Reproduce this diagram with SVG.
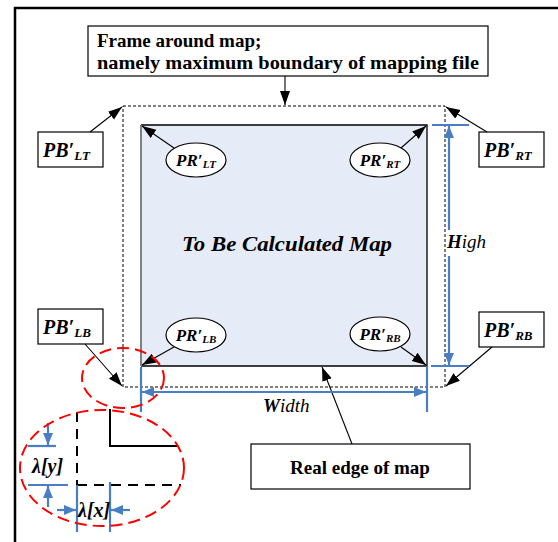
<svg xmlns="http://www.w3.org/2000/svg" width="558" height="542" viewBox="0 0 558 542">
<defs>
<style>
.box{fill:#fff;stroke:#000;stroke-width:1.2}
.lbl{font-family:"Liberation Serif","Times New Roman",serif;font-weight:bold;fill:#000}
.it{font-family:"Liberation Serif","Times New Roman",serif;font-style:italic;font-weight:bold;fill:#000}
.dimt{font-family:"Liberation Serif","Times New Roman",serif;font-style:italic;fill:#000}
.conn{stroke:#000;stroke-width:1.1;fill:none}
.blue{stroke:#4A7EC4;stroke-width:2.2;fill:none}
.red{stroke:#FF0000;stroke-width:2;fill:none;stroke-dasharray:12 6}
.dash{stroke:#000;stroke-width:1;fill:none;stroke-dasharray:3 2}
.bdash{stroke:#000;stroke-width:2;fill:none;stroke-dasharray:10 7}
</style>
<marker id="ah" markerUnits="userSpaceOnUse" markerWidth="16" markerHeight="12" refX="14" refY="5" orient="auto">
<path d="M0,0 L14,5 L0,10 Z" fill="#000"/>
</marker>
<marker id="bh" markerUnits="userSpaceOnUse" markerWidth="14" markerHeight="12" refX="12" refY="5" orient="auto">
<path d="M0,0 L12,5 L0,10 Z" fill="#4A7EC4"/>
</marker>
</defs>
<rect width="558" height="542" fill="#fff"/>
<g id="border">
<path d="M15,542 V8 H558" stroke="#000" stroke-width="2.5" fill="none"/>
</g>
<g id="frame">
<rect x="123" y="106" width="322" height="281" class="dash"/>
</g>
<g id="map">
<rect x="141" y="125" width="286" height="241" fill="#E6ECF7"/>
<path d="M141,125 H427 V366 H141" stroke="#000" stroke-width="1.3" fill="none"/>
<line x1="141" y1="125" x2="141" y2="366" stroke="#7F7F7F" stroke-width="2"/>
<text x="287" y="251" class="it" font-size="22">
<tspan x="182" textLength="210" lengthAdjust="spacingAndGlyphs">To Be Calculated Map</tspan></text>
</g>
<g id="top-label">
<rect x="88" y="26" width="400" height="50" class="box"/>
<text x="97" y="47" class="lbl" font-size="19">Frame around map;</text>
<text x="97" y="69" class="lbl" font-size="19" textLength="382" lengthAdjust="spacingAndGlyphs">namely maximum boundary of mapping file</text>
</g>
<g id="pb-lt">
<rect x="38" y="132" width="65" height="35" class="box"/>
<text x="43" y="157" class="it" font-size="20">PB′<tspan font-size="13" dy="3">LT</tspan></text>
</g>
<g id="pb-rt">
<rect x="479" y="132" width="65" height="35" class="box"/>
<text x="484" y="157" class="it" font-size="20">PB′<tspan font-size="13" dy="3">RT</tspan></text>
</g>
<g id="pb-lb">
<rect x="38" y="309" width="65" height="35" class="box"/>
<text x="43" y="334" class="it" font-size="20">PB′<tspan font-size="13" dy="3">LB</tspan></text>
</g>
<g id="pb-rb">
<rect x="479" y="312" width="65" height="35" class="box"/>
<text x="484" y="337" class="it" font-size="20">PB′<tspan font-size="13" dy="3">RB</tspan></text>
</g>
<g id="pr-lt">
<ellipse cx="196" cy="160" rx="30" ry="17" class="box"/>
<text x="196" y="166" class="it" font-size="17" text-anchor="middle">PR′<tspan font-size="11" dy="2">LT</tspan></text>
</g>
<g id="pr-rt">
<ellipse cx="380" cy="160" rx="30" ry="17" class="box"/>
<text x="380" y="166" class="it" font-size="17" text-anchor="middle">PR′<tspan font-size="11" dy="2">RT</tspan></text>
</g>
<g id="pr-lb">
<ellipse cx="196" cy="335" rx="30" ry="17" class="box"/>
<text x="196" y="341" class="it" font-size="17" text-anchor="middle">PR′<tspan font-size="11" dy="2">LB</tspan></text>
</g>
<g id="pr-rb">
<ellipse cx="380" cy="334" rx="30" ry="17" class="box"/>
<text x="380" y="340" class="it" font-size="17" text-anchor="middle">PR′<tspan font-size="11" dy="2">RB</tspan></text>
</g>
<g id="real-edge">
<rect x="251" y="444" width="219" height="45" class="box"/>
<text x="360" y="474" class="lbl" font-size="19" text-anchor="middle">Real edge of map</text>
</g>
<g id="connectors">
<line x1="285" y1="76" x2="285" y2="105" class="conn" marker-end="url(#ah)"/>
<line x1="90" y1="132" x2="122" y2="107" class="conn" marker-end="url(#ah)"/>
<line x1="487" y1="132" x2="446" y2="107" class="conn" marker-end="url(#ah)"/>
<line x1="85" y1="344" x2="122" y2="386" class="conn" marker-end="url(#ah)"/>
<line x1="492" y1="347" x2="446" y2="386" class="conn" marker-end="url(#ah)"/>
<line x1="174" y1="148" x2="142" y2="126" class="conn" marker-end="url(#ah)"/>
<line x1="401" y1="148" x2="426" y2="126" class="conn" marker-end="url(#ah)"/>
<line x1="174" y1="347" x2="142" y2="365" class="conn" marker-end="url(#ah)"/>
<line x1="401" y1="347" x2="426" y2="365" class="conn" marker-end="url(#ah)"/>
<line x1="352" y1="444" x2="322" y2="367" class="conn" marker-end="url(#ah)"/>
</g>
<g id="dimensions">
<line x1="432" y1="125" x2="469" y2="125" class="blue"/>
<line x1="431" y1="366" x2="469" y2="366" class="blue"/>
<line x1="449" y1="230" x2="449" y2="126" class="blue" marker-end="url(#bh)"/>
<line x1="449" y1="256" x2="449" y2="365" class="blue" marker-end="url(#bh)"/>
<line x1="141" y1="367" x2="141" y2="412" class="blue"/>
<line x1="427" y1="366" x2="427" y2="412" class="blue"/>
<line x1="284" y1="392" x2="142" y2="392" class="blue" marker-end="url(#bh)"/>
<line x1="284" y1="392" x2="426" y2="392" class="blue" marker-end="url(#bh)"/>
<text x="263" y="412" class="dimt" font-size="19"><tspan font-weight="bold">W</tspan>idth</text>
<text x="447" y="248" class="dimt" font-size="19"><tspan font-weight="bold">H</tspan>igh</text>
</g>
<g id="zoom-detail">
<ellipse cx="123" cy="378" rx="41" ry="30" class="red"/>
<line x1="77" y1="412" x2="77" y2="485" class="bdash"/>
<line x1="77" y1="485" x2="181" y2="485" class="bdash"/>
<path d="M110,409 V446 H177" stroke="#000" stroke-width="2" fill="none"/>
<line x1="28" y1="446" x2="56" y2="446" class="blue"/>
<line x1="28" y1="485" x2="68" y2="485" class="blue"/>
<line x1="48" y1="423" x2="48" y2="445" class="blue" marker-end="url(#bh)"/>
<line x1="48" y1="507" x2="48" y2="486" class="blue" marker-end="url(#bh)"/>
<line x1="77" y1="485" x2="77" y2="532" class="blue"/>
<line x1="110" y1="482" x2="110" y2="532" class="blue"/>
<line x1="57" y1="510" x2="76" y2="510" class="blue" marker-end="url(#bh)"/>
<line x1="130" y1="510" x2="111" y2="510" class="blue" marker-end="url(#bh)"/>
<text x="32" y="473" class="it" font-size="20">λ[y]</text>
<text x="78" y="517" class="it" font-size="20">λ[x]</text>
<ellipse cx="102" cy="468" rx="82" ry="58" class="red"/>
</g>
</svg>
